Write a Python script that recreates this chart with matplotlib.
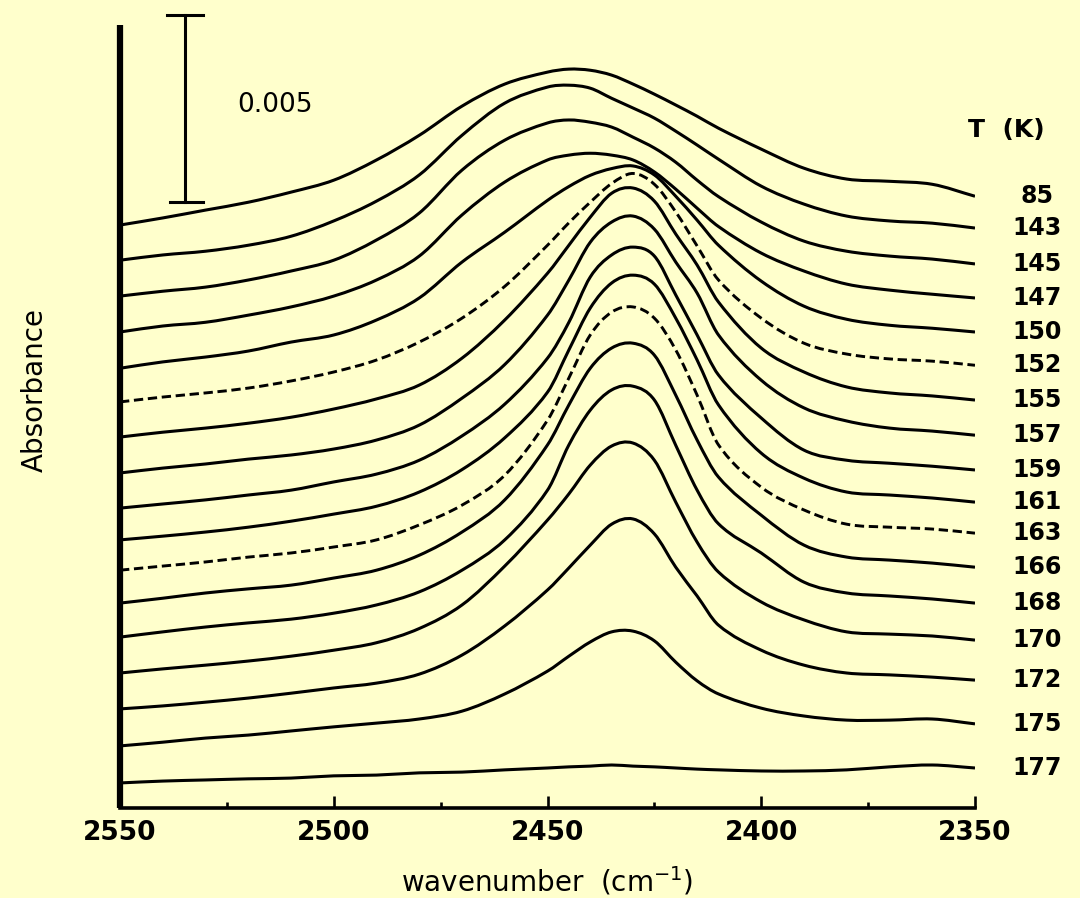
import matplotlib
matplotlib.use("Agg")
import matplotlib.pyplot as plt
from matplotlib.path import Path
from matplotlib.patches import PathPatch
from matplotlib.ticker import MultipleLocator

# ---------------- data (absorbance in units of 1e-3, stacked as in the figure) ----------------
wavenumber = [2550, 2540, 2530, 2520, 2510, 2500, 2490, 2480, 2470, 2460, 2450, 2445, 2440,
              2435, 2430, 2425, 2420, 2415, 2410, 2400, 2390, 2380, 2370, 2360, 2350]

a85  = [15.59, 15.78, 15.99, 16.20, 16.47, 16.79, 17.33, 17.99, 18.77, 19.36, 19.68, 19.76, 19.73, 19.60, 19.36, 19.09, 18.80, 18.50, 18.18, 17.62, 17.11, 16.82, 16.76, 16.68, 16.36]
a143 = [14.65, 14.79, 14.89, 15.05, 15.29, 15.70, 16.23, 16.93, 17.99, 18.85, 19.28, 19.33, 19.25, 18.98, 18.72, 18.45, 18.10, 17.73, 17.35, 16.63, 16.15, 15.83, 15.70, 15.64, 15.51]
a145 = [13.69, 13.82, 13.93, 14.12, 14.36, 14.65, 15.19, 15.91, 17.06, 17.86, 18.32, 18.40, 18.34, 18.21, 17.94, 17.65, 17.27, 16.79, 16.35, 15.67, 15.16, 14.89, 14.76, 14.68, 14.55]
a147 = [12.73, 12.89, 12.99, 13.18, 13.40, 13.69, 14.12, 14.76, 15.86, 16.74, 17.33, 17.46, 17.51, 17.46, 17.33, 17.01, 16.55, 16.04, 15.55, 14.84, 14.36, 14.01, 13.85, 13.74, 13.64]
a150 = [11.76, 11.93, 12.06, 12.22, 12.46, 12.65, 13.05, 13.64, 14.60, 15.40, 16.25, 16.62, 16.92, 17.10, 17.17, 16.93, 16.36, 15.72, 15.05, 14.09, 13.42, 13.07, 12.91, 12.83, 12.73]
a152 = [10.86, 10.99, 11.10, 11.23, 11.42, 11.66, 11.98, 12.46, 13.10, 13.95, 15.05, 15.65, 16.20, 16.70, 16.97, 16.68, 15.94, 15.03, 14.12, 13.10, 12.43, 12.14, 12.01, 11.95, 11.84]
a155 = [9.92, 10.05, 10.16, 10.29, 10.45, 10.67, 10.94, 11.31, 12.03, 13.05, 14.30, 15.05, 15.80, 16.44, 16.58, 16.23, 15.35, 14.52, 13.53, 12.30, 11.66, 11.26, 11.10, 11.02, 10.91]
a157 = [8.96, 9.09, 9.20, 9.33, 9.44, 9.60, 9.84, 10.24, 10.96, 11.86, 13.18, 14.12, 15.13, 15.67, 15.83, 15.48, 14.60, 13.77, 12.65, 11.44, 10.70, 10.35, 10.16, 10.08, 9.97]
a159 = [8.02, 8.13, 8.24, 8.37, 8.50, 8.72, 8.93, 9.30, 9.95, 10.80, 12.03, 12.99, 14.20, 14.79, 15.00, 14.76, 13.72, 12.65, 11.58, 10.43, 9.57, 9.30, 9.22, 9.14, 9.04]
a161 = [7.17, 7.27, 7.38, 7.51, 7.67, 7.86, 8.07, 8.45, 9.05, 9.90, 11.12, 12.25, 13.37, 14.04, 14.25, 14.01, 13.10, 11.98, 10.78, 9.49, 8.82, 8.45, 8.37, 8.29, 8.18]
a163 = [6.36, 6.47, 6.58, 6.71, 6.82, 6.98, 7.17, 7.57, 8.10, 8.90, 10.37, 11.50, 12.65, 13.26, 13.40, 13.10, 12.25, 11.04, 9.71, 8.58, 7.97, 7.59, 7.51, 7.46, 7.35]
a166 = [5.48, 5.61, 5.75, 5.86, 5.96, 6.15, 6.36, 6.76, 7.38, 8.24, 9.71, 10.78, 11.76, 12.30, 12.43, 12.11, 11.04, 9.84, 8.85, 7.83, 7.03, 6.71, 6.63, 6.55, 6.44]
a168 = [4.57, 4.71, 4.84, 4.95, 5.05, 5.21, 5.43, 5.78, 6.36, 7.17, 8.50, 9.71, 10.64, 11.18, 11.28, 10.91, 9.70, 8.50, 7.60, 6.82, 6.04, 5.75, 5.67, 5.59, 5.48]
a170 = [3.61, 3.72, 3.82, 3.93, 4.06, 4.22, 4.42, 4.80, 5.43, 6.47, 7.70, 8.40, 9.17, 9.68, 9.76, 9.30, 8.18, 7.11, 6.31, 5.51, 5.03, 4.71, 4.65, 4.60, 4.49]
a172 = [2.65, 2.73, 2.83, 2.94, 3.07, 3.21, 3.34, 3.58, 4.09, 4.87, 5.83, 6.42, 7.03, 7.59, 7.73, 7.33, 6.44, 5.67, 4.89, 4.22, 3.82, 3.61, 3.56, 3.50, 3.42]
a175 = [1.66, 1.76, 1.87, 1.95, 2.06, 2.17, 2.27, 2.38, 2.59, 3.05, 3.66, 4.06, 4.44, 4.71, 4.73, 4.47, 3.90, 3.40, 3.05, 2.67, 2.46, 2.35, 2.35, 2.38, 2.25]
a177 = [0.67, 0.72, 0.75, 0.78, 0.80, 0.86, 0.88, 0.94, 0.96, 1.02, 1.07, 1.10, 1.12, 1.15, 1.12, 1.10, 1.07, 1.04, 1.02, 0.99, 0.99, 1.02, 1.10, 1.15, 1.07]

temperatures = ["85", "143", "145", "147", "150", "152", "155", "157", "159",
                "161", "163", "166", "168", "170", "172", "175", "177"]
dashed_temps = ["152", "163"]
x_ticks = [2550, 2500, 2450, 2400, 2350]
scale_bar_value = 0.005
scale_bar_label = "0.005"

spectra = [a85, a143, a145, a147, a150, a152, a155, a157, a159,
           a161, a163, a166, a168, a170, a172, a175, a177]


def smooth_path(x, y):
    """Cubic Hermite (Bezier) path passing through every data point."""
    n = len(x)
    m = []
    for i in range(n):
        if i == 0:
            m.append((y[1] - y[0]) / (x[1] - x[0]))
        elif i == n - 1:
            m.append((y[-1] - y[-2]) / (x[-1] - x[-2]))
        else:
            m.append((y[i + 1] - y[i - 1]) / (x[i + 1] - x[i - 1]))
    verts = [(x[0], y[0])]
    codes = [Path.MOVETO]
    for i in range(n - 1):
        dx = x[i + 1] - x[i]
        verts += [(x[i] + dx / 3, y[i] + m[i] * dx / 3),
                  (x[i + 1] - dx / 3, y[i + 1] - m[i + 1] * dx / 3),
                  (x[i + 1], y[i + 1])]
        codes += [Path.CURVE4] * 3
    return Path(verts, codes)


# ---------------- figure ----------------
BG = "#FFFFCC"
fig = plt.figure(figsize=(10.8, 8.98), dpi=100, facecolor=BG)
ax = fig.add_axes([120 / 1080, 1 - 808 / 898, 855 / 1080, 783 / 898])
ax.set_facecolor(BG)

for temp, spec in zip(temperatures, spectra):
    y = [v * 1e-3 for v in spec]
    if temp in dashed_temps:
        ls = (0, (3.2, 1.6))
        lw = 2.1
    else:
        ls = "-"
        lw = 2.2
    ax.add_patch(PathPatch(smooth_path(wavenumber, y), fill=False, edgecolor="black",
                           lw=lw, linestyle=ls, capstyle="butt", joinstyle="round"))
    ax.annotate(temp, xy=(1.0, y[-1]), xycoords=("axes fraction", "data"),
                xytext=(44.5, 0), textcoords="offset points",
                ha="center", va="center", fontsize=17, fontweight="bold",
                family="DejaVu Sans", annotation_clip=False)

ax.set_xlim(2550, 2350)
ax.set_ylim(0, 20.94e-3)

# scale bar
bar_x = 2534.8
bar_y0 = 16.2e-3
bar_y1 = bar_y0 + scale_bar_value
ax.plot([bar_x, bar_x], [bar_y0, bar_y1], color="black", lw=2.2, clip_on=False)
ax.plot([bar_x - 4.1, bar_x + 4.1], [bar_y1, bar_y1], color="black", lw=2.2, clip_on=False)
ax.plot([bar_x - 4.1, bar_x + 3.6], [bar_y0, bar_y0], color="black", lw=2.2, clip_on=False)
ax.text(2522.6, 18.8e-3, scale_bar_label, fontsize=19, ha="left", va="center",
        family="DejaVu Sans")

# axes styling
for s in ["top", "right"]:
    ax.spines[s].set_visible(False)
ax.spines["left"].set_linewidth(4.5)
ax.spines["bottom"].set_linewidth(2.6)
ax.spines["left"].set_capstyle("butt")
ax.yaxis.set_visible(False)
ax.set_xticks(x_ticks)
ax.set_xticklabels([str(t) for t in x_ticks])
ax.xaxis.set_minor_locator(MultipleLocator(25))
ax.tick_params(axis="x", which="major", direction="in", length=9, width=1.9, pad=9,
               labelsize=19)
ax.tick_params(axis="x", which="minor", direction="in", length=4.5, width=1.9)
for lab in ax.get_xticklabels():
    lab.set_fontweight("bold")

ax.set_xlabel(r"wavenumber  (cm$^{-1}$)", fontsize=20, labelpad=13, family="DejaVu Sans")

fig.text(35 / 1080, 1 - 390 / 898, "Absorbance", rotation=90, ha="center", va="center",
         fontsize=20, family="DejaVu Sans")
fig.text(968 / 1080, 1 - 130 / 898, "T  (K)", ha="left", va="center", fontsize=18,
         fontweight="bold", family="DejaVu Sans")

fig.savefig("out.png", dpi=100, facecolor=BG)
